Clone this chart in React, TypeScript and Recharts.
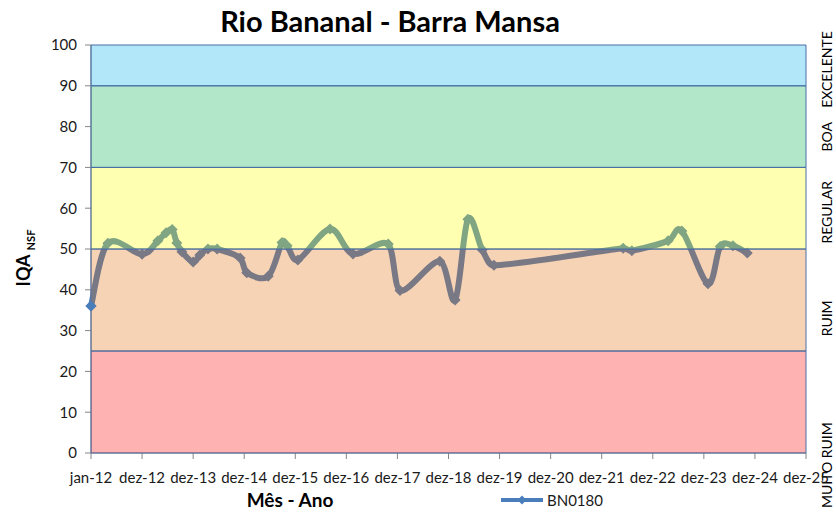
import React from 'react';
import { ComposedChart, Line, XAxis, YAxis, ReferenceArea, ReferenceDot } from 'recharts';

const chartTitle = 'Rio Bananal - Barra Mansa';
const seriesName = 'BN0180';
const xAxisTitle = 'Mês - Ano';

const xTickValues = [2012, 2013, 2014, 2015, 2016, 2017, 2018, 2019, 2020, 2021, 2022, 2023, 2024, 2025, 2026];
const xTickLabels = ['jan-12', 'dez-12', 'dez-13', 'dez-14', 'dez-15', 'dez-16', 'dez-17', 'dez-18', 'dez-19', 'dez-20', 'dez-21', 'dez-22', 'dez-23', 'dez-24', 'dez-25'];
const yTicks = [0, 10, 20, 30, 40, 50, 60, 70, 80, 90, 100];

// sampling dates in decimal years
const sampleDates = [
  2012.0, 2012.33, 2013.0, 2013.31, 2013.47, 2013.59, 2013.68, 2013.78, 2014.0, 2014.13,
  2014.29, 2014.47, 2014.92, 2015.05, 2015.47, 2015.74, 2015.84, 2016.05, 2016.68, 2017.13,
  2017.82, 2018.05, 2018.83, 2019.13, 2019.38, 2019.66, 2019.89, 2022.42, 2022.59, 2023.3,
  2023.57, 2024.08, 2024.32, 2024.57, 2024.85,
];
const iqaValues = [
  36.0, 51.4, 48.7, 52.0, 54.0, 54.8, 51.5, 49.3, 46.8, 48.5,
  50.0, 50.0, 47.8, 44.2, 43.3, 51.6, 50.8, 47.3, 54.9, 48.8,
  51.2, 39.8, 47.0, 37.5, 57.3, 49.8, 46.0, 50.2, 49.6, 52.0,
  54.4, 41.5, 50.6, 50.8, 49.0,
];

const bandLimits = [0, 25, 50, 70, 90, 100];
const bandColors = ['#FF0000', '#E46C0A', '#FFFF00', '#00B050', '#00B0F0'];
const classNames = ['MUITO RUIM', 'RUIM', 'REGULAR', 'BOA', 'EXCELENTE'];
const classLabelValues = [-3, 33, 59, 77.5, 94];

const data = sampleDates.map((d, i) => ({ date: d, iqa: iqaValues[i] }));

const FONT = "Lato, 'Open Sans', sans-serif";
const LINE_COLOR = '#4A7EBB';

function excelSmooth(context: any) {
  let pts: number[][] = [];
  return {
    areaStart() {},
    areaEnd() {},
    lineStart() {
      pts = [];
    },
    point(x: number, y: number) {
      pts.push([+x, +y]);
    },
    lineEnd() {
      const n = pts.length;
      if (!n) return;
      context.moveTo(pts[0][0], pts[0][1]);
      for (let i = 0; i < n - 1; i++) {
        const p0 = pts[i > 0 ? i - 1 : i];
        const p1 = pts[i];
        const p2 = pts[i + 1];
        const p3 = pts[i + 2 < n ? i + 2 : i + 1];
        const seg = Math.abs(p2[0] - p1[0]);
        let t1x = (p2[0] - p0[0]) / 6;
        let t1y = (p2[1] - p0[1]) / 6;
        let t2x = (p3[0] - p1[0]) / 6;
        let t2y = (p3[1] - p1[1]) / 6;
        const lim = seg * 0.5;
        if (Math.abs(t1x) > lim && t1x !== 0) {
          const k = lim / Math.abs(t1x);
          t1x *= k;
          t1y *= k;
        }
        if (Math.abs(t2x) > lim && t2x !== 0) {
          const k = lim / Math.abs(t2x);
          t2x *= k;
          t2y *= k;
        }
        context.bezierCurveTo(p1[0] + t1x, p1[1] + t1y, p2[0] - t2x, p2[1] - t2y, p2[0], p2[1]);
      }
    },
  };
}

const Diamond = (props: any) => {
  const { cx, cy } = props;
  if (cx == null || cy == null) return null;
  const r = 5.5;
  return (
    <polygon
      points={`${cx},${cy - r} ${cx + r},${cy} ${cx},${cy + r} ${cx - r},${cy}`}
      fill={LINE_COLOR}
      stroke="none"
    />
  );
};

const makeClassLabel = (name: string) => (props: any) => {
  const { cx, cy } = props;
  if (cx == null || cy == null) return null;
  return (
    <g transform={`translate(${cx + 20},${cy}) rotate(-90)`}>
      <text x={0} y={0} textAnchor="middle" dominantBaseline="central" fontFamily={FONT} fontSize={14} fill="#000">
        {name}
      </text>
    </g>
  );
};

const YLabel = (props: any) => {
  const vb = props.viewBox || { x: 0, y: 45, width: 91, height: 408 };
  const cx = vb.x + 30;
  const cy = vb.y + vb.height / 2 + 9;
  return (
    <g transform={`translate(${cx},${cy}) rotate(-90)`}>
      <text x={0} y={0} textAnchor="middle" fontFamily={FONT} fontWeight={700} fontSize={18} fill="#000">
        IQA
        <tspan dx={4} dy={5} fontSize={11}>NSF</tspan>
      </text>
    </g>
  );
};

const XLabel = (props: any) => {
  const vb = props.viewBox || { x: 91, y: 453, width: 715, height: 61 };
  return (
    <text x={vb.x + 199} y={vb.y + 54} textAnchor="middle" fontFamily={FONT} fontWeight={700} fontSize={19} fill="#000">
      {xAxisTitle}
    </text>
  );
};

export default function App() {
  return (
    <div style={{ position: 'absolute', left: 0, top: 0, width: 836, height: 514, background: '#fff', fontFamily: FONT }}>
      <div
        style={{
          position: 'absolute',
          left: 0,
          width: 780,
          top: 3,
          textAlign: 'center',
          fontSize: 29,
          fontWeight: 700,
          color: '#000',
          lineHeight: '36px',
        }}
      >
        {chartTitle}
      </div>
      <ComposedChart width={836} height={514} data={data} margin={{ top: 45, right: 30, bottom: 0, left: 0 }}>
        <XAxis
          dataKey="date"
          type="number"
          domain={[2012, 2026]}
          ticks={xTickValues}
          interval={0}
          tickFormatter={(v: number) => xTickLabels[xTickValues.indexOf(v)]}
          height={61}
          stroke="#868686"
          tickSize={6}
          tickMargin={13}
          tick={{ fontFamily: FONT, fontSize: 15, fill: '#1a1a1a' }}
          label={<XLabel />}
        />
        <YAxis
          domain={[0, 100]}
          ticks={yTicks}
          interval={0}
          width={91}
          stroke="#868686"
          tickSize={6}
          tickMargin={8}
          tick={{ fontFamily: FONT, fontSize: 15, fill: '#1a1a1a' }}
          label={<YLabel />}
        />
        <Line
          dataKey="iqa"
          type={excelSmooth as any}
          stroke={LINE_COLOR}
          strokeWidth={6}
          strokeLinejoin="round"
          strokeLinecap="round"
          dot={<Diamond />}
          activeDot={false}
          isAnimationActive={false}
          zIndex={100}
        />
        {classNames.map((name, i) => (
          <ReferenceArea
            key={name}
            y1={bandLimits[i]}
            y2={bandLimits[i + 1]}
            fill={bandColors[i]}
            fillOpacity={0.3}
            stroke="#4A6FA5"
            strokeWidth={1}
            zIndex={1000}
          />
        ))}
        <ReferenceDot x={sampleDates[0]} y={iqaValues[0]} shape={<Diamond />} zIndex={1100} />
        {classNames.map((name, i) => (
          <ReferenceDot
            key={'lbl-' + name}
            x={2026}
            y={classLabelValues[i]}
            ifOverflow="visible"
            shape={makeClassLabel(name)}
            zIndex={1100}
          />
        ))}
      </ComposedChart>
      <div style={{ position: 'absolute', left: 500, top: 490, height: 20, display: 'flex', alignItems: 'center' }}>
        <svg width={44} height={20}>
          <line x1={1} y1={10} x2={43} y2={10} stroke={LINE_COLOR} strokeWidth={4} />
          <polygon points="22,5.5 26.5,10 22,14.5 17.5,10" fill={LINE_COLOR} />
        </svg>
        <span style={{ fontSize: 15, marginLeft: 3, color: '#1a1a1a' }}>{seriesName}</span>
      </div>
    </div>
  );
}
